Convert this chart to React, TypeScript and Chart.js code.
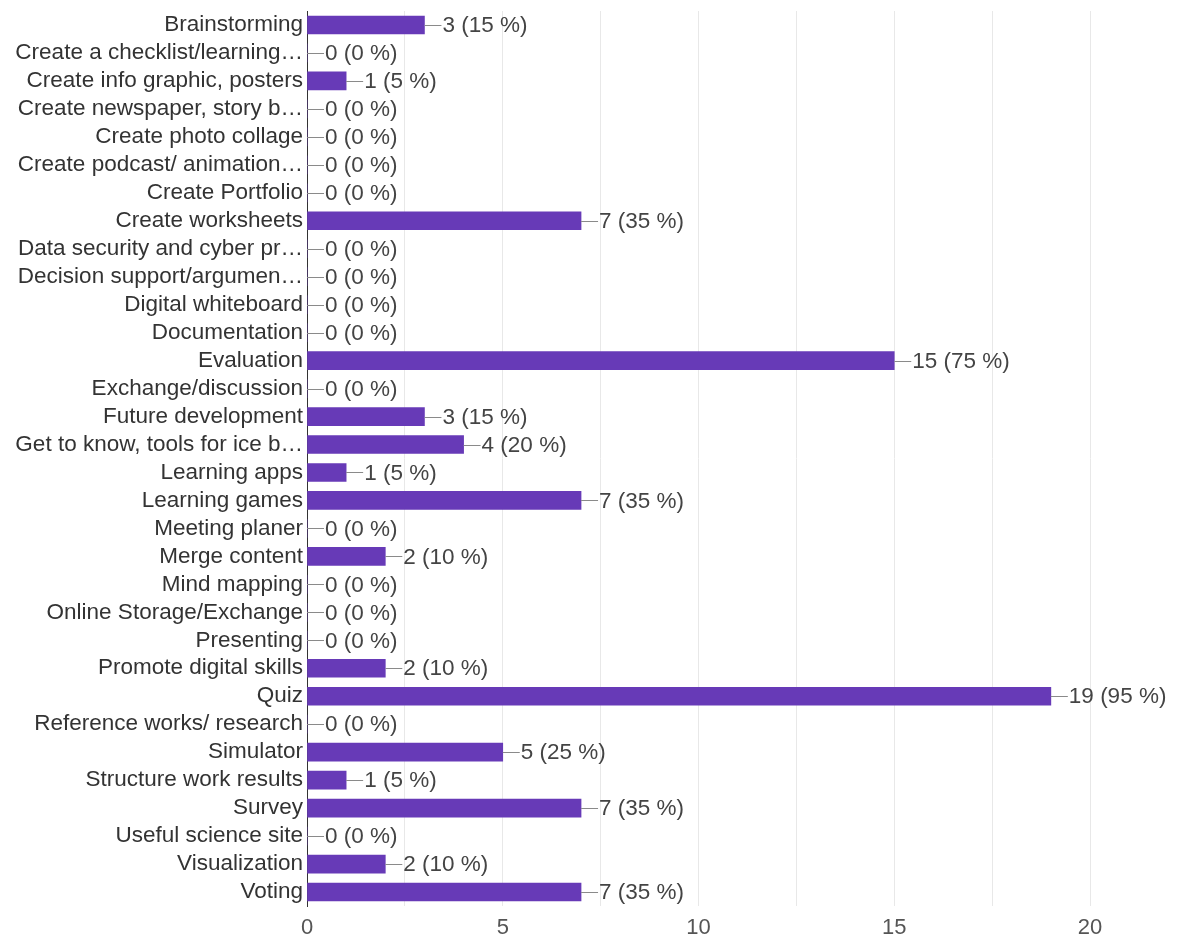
import React, { useEffect, useRef } from "react";
import { Chart, registerables } from "chart.js";

Chart.register(...registerables);

const categories: string[] = [
  "Brainstorming",
  "Create a checklist/learning…",
  "Create info graphic, posters",
  "Create newspaper, story b…",
  "Create photo collage",
  "Create podcast/ animation…",
  "Create Portfolio",
  "Create worksheets",
  "Data security and cyber pr…",
  "Decision support/argumen…",
  "Digital whiteboard",
  "Documentation",
  "Evaluation",
  "Exchange/discussion",
  "Future development",
  "Get to know, tools for ice b…",
  "Learning apps",
  "Learning games",
  "Meeting planer",
  "Merge content",
  "Mind mapping",
  "Online Storage/Exchange",
  "Presenting",
  "Promote digital skills",
  "Quiz",
  "Reference works/ research",
  "Simulator",
  "Structure work results",
  "Survey",
  "Useful science site",
  "Visualization",
  "Voting",
];

const counts: number[] = [
  3, 0, 1, 0, 0, 0, 0, 7, 0, 0, 0, 0, 15, 0, 3, 4, 1, 7, 0, 2, 0, 0, 0, 2, 19, 0, 5, 1, 7, 0, 2, 7,
];

const respondents = 20;
const xTickValues: number[] = [0, 5, 10, 15, 20];

const FONT = "'Liberation Sans', Arial, sans-serif";

const valueLabelPlugin = {
  id: "valueLabels",
  afterDatasetsDraw(chart: any) {
    const ctx = chart.ctx;
    const meta = chart.getDatasetMeta(0);
    ctx.save();
    ctx.font = `22.5px ${FONT}`;
    ctx.textBaseline = "middle";
    ctx.textAlign = "left";
    meta.data.forEach((bar: any, i: number) => {
      const v = counts[i];
      const x = bar.x;
      const y = bar.y;
      ctx.strokeStyle = "#8a8a8a";
      ctx.lineWidth = 1;
      ctx.beginPath();
      ctx.moveTo(x, Math.round(y) + 0.5);
      ctx.lineTo(x + 17, Math.round(y) + 0.5);
      ctx.stroke();
      const pct = Math.round((v / respondents) * 100);
      ctx.fillStyle = "#444444";
      ctx.fillText(`${v} (${pct} %)`, x + 18, y + 1);
    });
    ctx.restore();
  },
};

export default function App() {
  const canvasRef = useRef<HTMLCanvasElement | null>(null);

  useEffect(() => {
    if (!canvasRef.current) return;
    const chart = new Chart(canvasRef.current, {
      type: "bar",
      data: {
        labels: categories,
        datasets: [
          {
            data: counts,
            backgroundColor: "#673ab7",
            borderWidth: 0,
            barThickness: 18,
          },
        ],
      },
      options: {
        indexAxis: "y",
        animation: false,
        responsive: true,
        maintainAspectRatio: false,
        layout: { padding: { left: 0, right: 88, top: 11, bottom: 0 } },
        plugins: {
          legend: { display: false },
          tooltip: { enabled: false },
        },
        scales: {
          x: {
            min: 0,
            max: 20,
            afterFit: (scale: any) => {
              scale.height = 39;
              scale.paddingLeft = 0;
              scale.paddingRight = 0;
            },
            ticks: {
              stepSize: 2.5,
              autoSkip: false,
              maxRotation: 0,
              padding: 9,
              color: "#555555",
              font: { family: FONT, size: 22 },
              callback: (v: any) => (xTickValues.includes(Number(v)) ? String(v) : ""),
            },
            grid: { color: "#e8e8e8", drawTicks: false, lineWidth: 1 },
            border: { display: false },
          },
          y: {
            afterFit: (scale: any) => {
              scale.width = 307;
              scale.paddingTop = 0;
              scale.paddingBottom = 0;
            },
            ticks: {
              autoSkip: false,
              padding: 4,
              color: "#333333",
              font: { family: FONT, size: 22.5 },
            },
            grid: { display: false, drawTicks: false },
            border: { display: true, color: "#333333", width: 1 },
          },
        },
      },
      plugins: [valueLabelPlugin],
    });
    return () => chart.destroy();
  }, []);

  return (
    <div style={{ position: "absolute", left: 0, top: 0, width: 1178, height: 945, background: "#ffffff" }}>
      <canvas ref={canvasRef} />
    </div>
  );
}
